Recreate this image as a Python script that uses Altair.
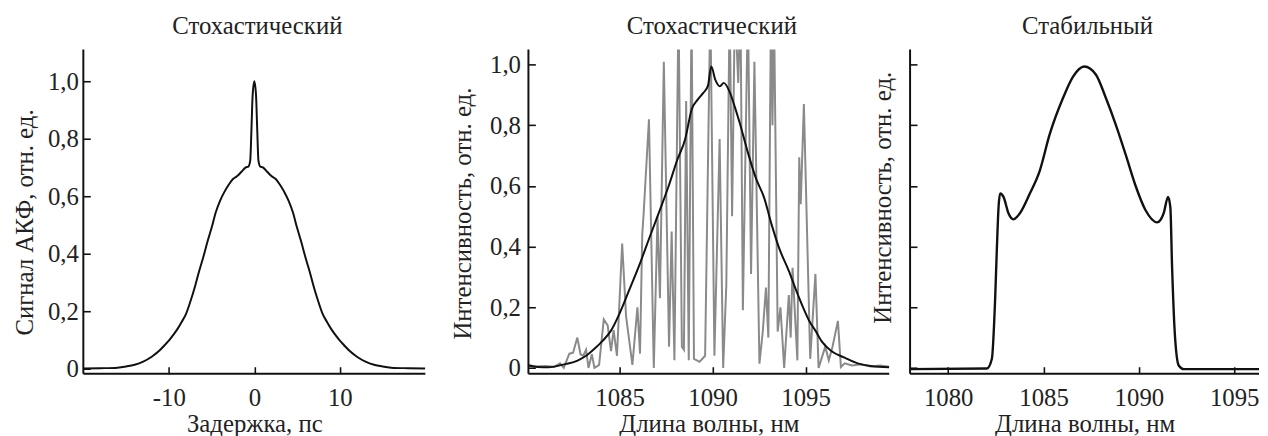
import altair as alt
import pandas as pd

# ---------------- data ----------------
# Panel 1: autocorrelation function
acf_delay = [-20, -18, -16, -15, -14, -13, -12, -11, -10.5, -10, -9.5, -9, -8.5, -8,
             -7.5, -7, -6.5, -6, -5.5, -5, -4.5, -4, -3.5, -3, -2.5, -2, -1.5, -1,
             -0.7, -0.48, -0.33, -0.2, 0,
             0.2, 0.33, 0.48, 0.7, 1, 1.5, 2, 2.5, 3, 3.5, 4, 4.5, 5, 5.5, 6, 6.5,
             7, 7.5, 8, 8.5, 9, 9.5, 10, 10.5, 11, 12, 13, 14, 15, 16, 18, 20]
acf_signal = [0.001, 0.002, 0.004, 0.008, 0.014, 0.025, 0.042, 0.066, 0.082, 0.098, 0.117,
              0.138, 0.163, 0.19, 0.232, 0.28, 0.335, 0.385, 0.44, 0.49, 0.545, 0.585,
              0.615, 0.64, 0.66, 0.67, 0.685, 0.70, 0.703, 0.724, 0.84, 0.95, 1.0,
              0.95, 0.84, 0.724, 0.703, 0.70, 0.685, 0.67, 0.66, 0.64, 0.615, 0.585,
              0.545, 0.49, 0.44, 0.385, 0.335, 0.28, 0.232, 0.19, 0.163, 0.138, 0.117,
              0.098, 0.082, 0.066, 0.042, 0.025, 0.014, 0.008, 0.004, 0.002, 0.001]

# Panel 2: single-shot spectrum (grey) and averaged spectrum (black)
single_wl = [1080.1, 1080.5, 1081.0, 1081.5, 1081.8, 1082.0, 1082.3, 1082.5, 1082.73, 1082.9,
             1083.05, 1083.2, 1083.33, 1083.51, 1083.65, 1083.9, 1084.15, 1084.36, 1084.54,
             1084.68, 1084.86, 1085.14, 1085.35, 1085.69, 1085.96, 1086.1, 1086.22, 1086.3,
             1086.58, 1086.84, 1087.04, 1087.17, 1087.38, 1087.66, 1087.8, 1087.95, 1088.17,
             1088.35, 1088.46, 1088.58, 1088.72, 1088.87, 1089.0, 1089.3, 1089.6, 1089.88,
             1090.1, 1090.38, 1090.57, 1090.74, 1090.92, 1091.05, 1091.2, 1091.38, 1091.5,
             1091.63, 1091.9, 1092.07, 1092.25, 1092.52, 1092.7, 1092.87, 1093.0, 1093.14,
             1093.22, 1093.3, 1093.5, 1093.65, 1093.85, 1094.1, 1094.2, 1094.3, 1094.56,
             1094.66, 1094.74, 1094.91, 1095.25, 1095.53, 1095.7, 1096.06, 1096.25, 1096.45,
             1096.74, 1096.9, 1097.1, 1097.5, 1098.0, 1098.5, 1099.0, 1099.5]
single_int = [0.01, 0.005, 0.006, 0.004, 0.015, 0.0, 0.047, 0.05, 0.10, 0.045, 0.04, 0.06,
              0.0, 0.045, 0.0, 0.01, 0.16, 0.14, 0.055, 0.125, 0.04, 0.41, 0.17, 0.01, 0.20,
              0.047, 0.44, 0.515, 0.82, 0.0, 0.50, 0.23, 1.01, 0.07, 0.45, 0.025, 1.2, 0.07,
              0.06, 0.88, 0.025, 1.2, 0.03, 0.02, 0.04, 1.2, 0.04, 0.755, 0.0, 0.275, 1.2,
              0.5, 1.2, 0.94, 1.2, 0.19, 1.2, 0.31, 1.01, 0.014, 0.12, 0.265, 0.1, 1.2, 0.8,
              1.2, 0.12, 0.2, 0.0, 0.24, 0.1, 0.33, 0.025, 0.695, 0.54, 0.87, 0.03, 0.31,
              0.0, 0.07, 0.025, 0.07, 0.155, 0.003, 0.015, 0.008, 0.012, 0.005, 0.008, 0.004]
avg_wl = [1080.1, 1080.6, 1081.2, 1081.9, 1082.77, 1083.2, 1083.65, 1084.1, 1084.54, 1084.98,
          1085.5, 1086.13, 1086.67, 1087.2, 1087.64, 1088.09, 1088.53, 1088.88, 1089.2, 1089.5,
          1089.75, 1089.93, 1090.15, 1090.39, 1090.6, 1090.94, 1091.2, 1091.45, 1091.9,
          1092.34, 1092.78, 1093.14, 1093.58, 1094.1, 1094.5, 1094.9, 1095.2, 1095.53,
          1095.9, 1096.4, 1097.1, 1097.8, 1098.5, 1099.5]
avg_int = [0.008, 0.003, 0.002, 0.01, 0.025, 0.04, 0.063, 0.09, 0.123, 0.177, 0.254, 0.35,
           0.44, 0.526, 0.60, 0.684, 0.755, 0.853, 0.885, 0.907, 0.93, 0.994, 0.95, 0.929,
           0.94, 0.907, 0.86, 0.81, 0.71, 0.624, 0.56, 0.48, 0.395, 0.32, 0.255, 0.195,
           0.155, 0.123, 0.085, 0.055, 0.034, 0.015, 0.006, 0.002]

# Panel 3: stable regime spectrum
stable_wl = [1078.0, 1082.03, 1082.29, 1082.46, 1082.55, 1082.64, 1082.72, 1082.9, 1083.16,
             1083.42, 1083.76, 1084.28, 1084.8, 1085.32, 1086.02, 1086.54, 1087.14, 1087.75,
             1088.27, 1088.8, 1089.3, 1089.83, 1090.35, 1090.96, 1091.3, 1091.53, 1091.65,
             1091.74, 1091.88, 1092.09, 1092.35, 1096.3]
stable_int = [-0.004, -0.002, 0.03, 0.226, 0.39, 0.53, 0.575, 0.564, 0.51, 0.49, 0.51, 0.575,
              0.65, 0.77, 0.89, 0.96, 0.994, 0.967, 0.89, 0.80, 0.705, 0.60, 0.52, 0.48, 0.51,
              0.564, 0.53, 0.335, 0.118, 0.008, -0.004, -0.004]

# texts, ticks, domains
panel_titles = ["Стохастический", "Стохастический", "Стабильный"]
x_titles = ["Задержка, пс", "Длина волны, нм", "Длина волны, нм"]
y_titles = ["Сигнал АКФ, отн. ед.", "Интенсивность, отн. ед.", "Интенсивность, отн. ед."]
acf_ticks = [-10, 0, 10]
wl2_ticks = [1085, 1090, 1095]
wl3_ticks = [1080, 1085, 1090, 1095]
y_ticks = [0, 0.2, 0.4, 0.6, 0.8, 1.0]
acf_x_domain = [-20, 20]
acf_y_domain = [-0.017, 1.11]
wl2_domain = [1080.1, 1099.5]
wl3_domain = [1078.0, 1096.3]
int_y_domain = [-0.019, 1.05]

# ---------------- styling ----------------
FONT = "Liberation Serif"
TXT = "#222222"
FS = 25
INK = "#111111"
H = 327

Y_EXPR = "datum.value == 0 ? '0' : replace(format(datum.value, '.1f'), '.', ',')"
X_EXPR = "datum.value < 0 ? '-' + format(-datum.value, 'd') : format(datum.value, 'd')"


def x_axis(title, values):
    return alt.Axis(values=values, title=title, domain=False, ticks=True, tickSize=7,
                    tickWidth=1.6, tickColor=INK, offset=-7, labelPadding=12,
                    labelFont=FONT, labelFontSize=FS, labelColor=TXT, labelExpr=X_EXPR,
                    titleFont=FONT, titleFontSize=FS, titleFontWeight="normal",
                    titleColor=TXT, titlePadding=1, grid=False, labelFlush=False)


def y_axis(title, labels, label_pad, title_pad, title_y):
    return alt.Axis(values=y_ticks, title=title, labels=labels, domain=False, ticks=True,
                    tickSize=7, tickWidth=1.6, tickColor=INK, offset=-7,
                    labelPadding=label_pad, labelFont=FONT, labelFontSize=FS,
                    labelColor=TXT, labelExpr=Y_EXPR, titleFont=FONT, titleFontSize=FS,
                    titleFontWeight="normal", titleColor=TXT, titlePadding=title_pad,
                    titleY=title_y, grid=False, labelFlush=False)


def sc(dom):
    return alt.Scale(domain=dom, nice=False, zero=False)


def frame(xdom, ydom, xax, yax):
    """Axis lines (left and bottom) drawn at the ends of the scale domains."""
    df = pd.DataFrame({"x": [xdom[0]], "x2": [xdom[1]], "y": [ydom[0]], "y2": [ydom[1]]})
    left = alt.Chart(df).mark_rule(color=INK, strokeWidth=2).encode(
        x=alt.X("x:Q", axis=xax, scale=sc(xdom)),
        y=alt.Y("y:Q", axis=yax, scale=sc(ydom)), y2="y2:Q")
    bottom = alt.Chart(df).mark_rule(color=INK, strokeWidth=2).encode(
        x=alt.X("x:Q", axis=xax, scale=sc(xdom)), x2="x2:Q",
        y=alt.Y("y:Q", axis=yax, scale=sc(ydom)))
    return [left, bottom]


def title(t):
    return alt.TitleParams(t, font=FONT, fontSize=FS, fontWeight="normal", color=TXT,
                           offset=10, anchor="middle", dx=3)


# Panel 1
ax1x = x_axis(x_titles[0], acf_ticks)
ax1y = y_axis(y_titles[0], True, 5, 10, 174)
df1 = pd.DataFrame({"x": acf_delay, "y": acf_signal})
line1 = alt.Chart(df1).mark_line(color=INK, strokeWidth=2, interpolate="monotone",
                                 clip=True).encode(
    x=alt.X("x:Q", scale=sc(acf_x_domain), axis=ax1x),
    y=alt.Y("y:Q", scale=sc(acf_y_domain), axis=ax1y))
p1 = alt.layer(line1, *frame(acf_x_domain, acf_y_domain, ax1x, ax1y)).properties(
    width=345, height=H, title=title(panel_titles[0]))

# Panel 2
ax2x = x_axis(x_titles[1], wl2_ticks)
ax2y = y_axis(y_titles[1], True, 8, 14, 165)
df2a = pd.DataFrame({"x": single_wl, "y": single_int})
df2b = pd.DataFrame({"x": avg_wl, "y": avg_int})
grey = alt.Chart(df2a).mark_line(color="#8a8a8a", strokeWidth=2, clip=True).encode(
    x=alt.X("x:Q", scale=sc(wl2_domain), axis=ax2x),
    y=alt.Y("y:Q", scale=sc(int_y_domain), axis=ax2y))
black = alt.Chart(df2b).mark_line(color=INK, strokeWidth=2, interpolate="monotone",
                                  clip=True).encode(
    x=alt.X("x:Q", scale=sc(wl2_domain), axis=ax2x),
    y=alt.Y("y:Q", scale=sc(int_y_domain), axis=ax2y))
p2 = alt.layer(grey, black, *frame(wl2_domain, int_y_domain, ax2x, ax2y)).properties(
    width=364, height=H, title=title(panel_titles[1]))

# Panel 3
ax3x = x_axis(x_titles[2], wl3_ticks)
ax3y = y_axis(y_titles[2], False, 5, 14, 149)
df3 = pd.DataFrame({"x": stable_wl, "y": stable_int})
line3 = alt.Chart(df3).mark_line(color=INK, strokeWidth=2.4, interpolate="monotone",
                                 clip=True).encode(
    x=alt.X("x:Q", scale=sc(wl3_domain), axis=ax3x),
    y=alt.Y("y:Q", scale=sc(int_y_domain), axis=ax3y))
p3 = alt.layer(line3, *frame(wl3_domain, int_y_domain, ax3x, ax3y)).properties(
    width=352, height=H, title=title(panel_titles[2]))

spacer = alt.Chart(pd.DataFrame({"s": [0]})).mark_point(opacity=0).encode(
    x=alt.X("s:Q", axis=None), y=alt.Y("s:Q", axis=None)).properties(width=62, height=H)

chart = alt.hconcat(p1, spacer, p2, p3, spacing=21, bounds="flush").properties(
    padding={"left": 4, "top": 4, "right": 0, "bottom": 0}
).configure_view(stroke=None)

chart.save("out.html", embed_options={"renderer": "svg", "actions": False})
